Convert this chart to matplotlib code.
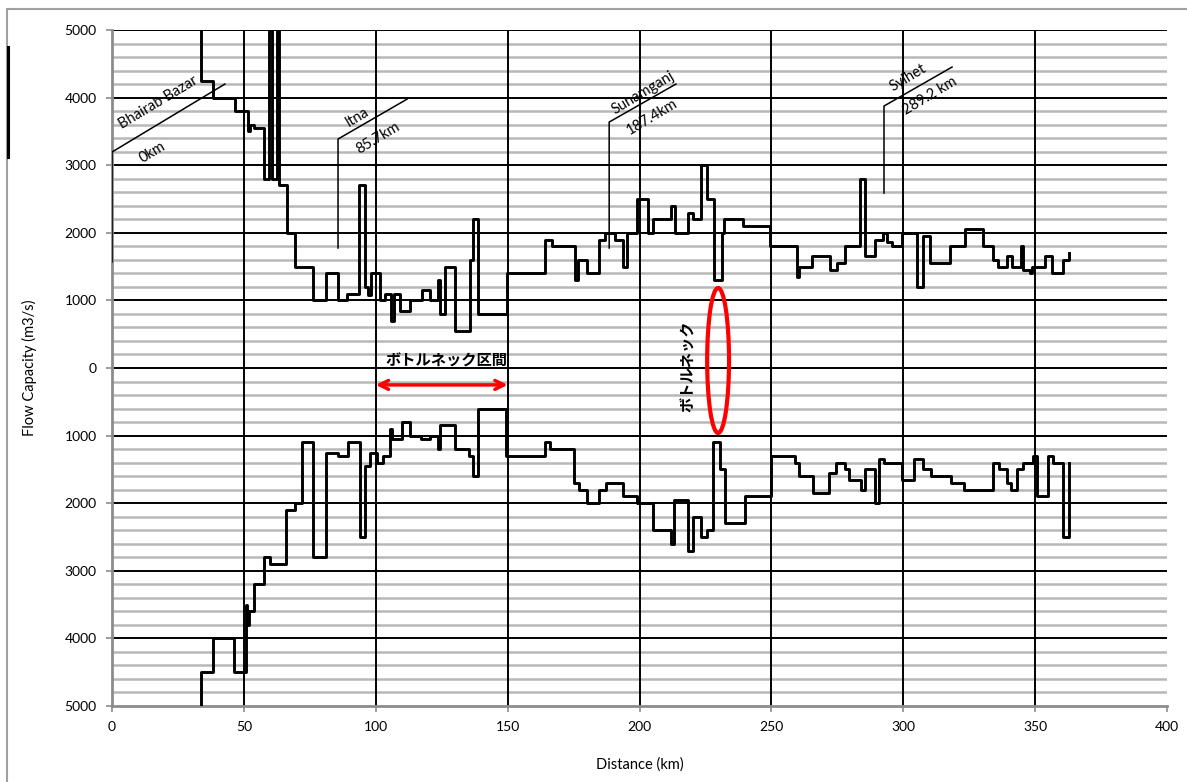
import matplotlib.pyplot as plt
import numpy as np
from matplotlib.patches import Ellipse, Rectangle
from matplotlib.lines import Line2D
from matplotlib.ticker import FuncFormatter

plt.rcParams['font.family'] = ['Lato', 'Noto Sans CJK JP', 'DejaVu Sans']

# upper envelope: capacity level starting at each km (steps-post)
upper_km = [33.7, 33.7, 38.3, 46.6, 51.7, 52.3, 53.8, 57.6, 59.6, 60.5, 62.6, 63.3, 66.2,
            69.4, 76.3, 81.0, 85.8, 89.0, 93.6, 95.9, 97.0, 98.3, 101.8, 103.5, 105.9,
            106.9, 109.2, 113.0, 117.4, 120.6, 123.7, 124.3, 126.2, 130.0, 135.7, 137.0,
            138.9, 149.9, 164.2, 166.7, 175.5, 176.8, 180.0, 184.8, 186.9, 190.7, 193.6,
            195.4, 198.9, 203.1, 205.2, 211.8, 213.5, 218.5, 220.4, 223.2, 225.7, 228.2,
            231.2, 232.0, 239.2, 249.5, 259.6, 260.3, 265.3, 272.2, 274.8, 277.9, 283.6,
            285.5, 289.3, 292.4, 293.7, 295.6, 299.4, 305.1, 307.6, 310.1, 317.7, 323.4,
            330.4, 334.1, 336.0, 339.2, 341.1, 344.6, 345.5, 348.0, 349.0, 353.7, 356.3,
            360.7, 363.0]
upper_q = [5500, 4250, 4000, 3800, 3500, 3600, 3550, 2800, 5500, 2800, 5500, 2700, 2000,
           1500, 1000, 1400, 1000, 1100, 2700, 1200, 1080, 1400, 1000, 1100, 700,
           1100, 850, 1000, 1150, 1000, 1300, 800, 1500, 550, 1600, 2200,
           800, 1400, 1900, 1800, 1300, 1600, 1400, 1900, 2000, 1900, 1500,
           2000, 2500, 2000, 2200, 2400, 2000, 2300, 2200, 3000, 2500, 1300,
           2000, 2200, 2100, 1800, 1350, 1500, 1650, 1450, 1550, 1800, 2800,
           1650, 1900, 2000, 1870, 1800, 2000, 1200, 1950, 1550, 1800, 2050,
           1800, 1600, 1500, 1650, 1500, 1800, 1450, 1400, 1500, 1650, 1400,
           1600, 1700]

# lower envelope (drawn below zero)
lower_km = [33.6, 33.6, 38.4, 46.4, 50.7, 51.3, 52.0, 53.8, 57.8, 59.8, 66.0, 69.5, 71.9,
            76.3, 81.1, 85.8, 89.4, 94.0, 95.9, 97.8, 100.3, 102.9, 105.4, 106.3, 109.8,
            113.0, 117.0, 120.6, 123.7, 124.3, 130.0, 135.5, 137.0, 138.6, 149.5, 164.2,
            166.1, 175.2, 177.2, 180.0, 184.8, 187.3, 193.6, 199.2, 205.2, 211.8, 213.1,
            218.5, 220.2, 223.2, 225.7, 228.0, 230.5, 232.4, 240.0, 249.8, 259.0, 260.6,
            265.7, 272.0, 274.5, 277.9, 279.5, 284.0, 285.4, 289.3, 290.9, 292.7, 299.4,
            304.2, 307.4, 310.4, 318.0, 323.0, 334.1, 336.4, 339.4, 341.0, 343.0, 345.5,
            349.1, 350.6, 355.0, 356.6, 360.7, 363.0]
lower_q = [5500, 4500, 4000, 4500, 3500, 3800, 3600, 3200, 2800, 2900, 2100, 2000, 1100,
           2800, 1250, 1300, 1100, 2500, 1450, 1250, 1400, 1300, 900, 1050, 800,
           1000, 1050, 1000, 1200, 850, 1200, 1300, 1600, 600, 1300, 1100,
           1200, 1700, 1800, 2000, 1800, 1700, 1900, 2000, 2400, 2600, 1950,
           2700, 2200, 2500, 2400, 1100, 1500, 2300, 1900, 1300, 1400, 1600,
           1850, 1550, 1400, 1500, 1650, 1800, 1500, 2000, 1350, 1400, 1650,
           1350, 1500, 1600, 1700, 1800, 1400, 1500, 1700, 1800, 1500, 1400,
           1300, 1900, 1300, 1400, 2500, 1400]

stations = ['Bhairab Bazar', 'Itna', 'Sunamganj', 'Sylhet']
station_km_labels = ['0km', '85.7km', '187.4km', '289.2 km']

fig = plt.figure(figsize=(11.87, 7.82), dpi=100)
ax = fig.add_axes([112 / 1187, 1 - 706 / 782, 1055 / 1187, 676 / 782])
ax.set_xlim(0, 400)
ax.set_ylim(-5000, 5000)

# grid: gray every 200, black every 1000 / 50 km
for y in np.arange(-4800, 5000, 200):
    if y % 1000:
        ax.axhline(y, color='#b8b8b8', lw=1.8, zorder=0.5)
for y in range(-4000, 5001, 1000):
    ax.axhline(y, color='black', lw=1.4, zorder=1)
for x in range(50, 400, 50):
    ax.axvline(x, color='black', lw=1.4, zorder=1)

ax.plot(upper_km, upper_q, drawstyle='steps-post', color='black', lw=2.1, zorder=3)
ax.plot(lower_km, -np.array(lower_q), drawstyle='steps-post', color='black', lw=2.1, zorder=3)

# station leader lines and labels
leaders = [
    ([0, 0, 42.8], [1570, 3195, 4200], (17.4, 3934), (15.5, 3195)),
    ([85.7, 85.7, 111.9], [1775, 3387, 3978], (92.9, 3712), (100.9, 3402)),
    ([188.5, 188.5, 213.8], [1775, 3638, 4200], (201.3, 4067), (204.7, 3712)),
    ([292.7, 292.7, 318.5], [2588, 3875, 4452], (301.8, 4289), (310.1, 4023)),
]
for name, dist, (lx, ly, p_name, p_dist) in zip(stations, station_km_labels, leaders):
    ax.plot(lx, ly, color='black', lw=1.1, zorder=3)
    ax.text(*p_name, name, rotation=31, ha='center', va='center', fontsize=10.5, zorder=4)
    ax.text(*p_dist, dist, rotation=31, ha='center', va='center', fontsize=10.5, zorder=4)

# bottleneck annotations
ax.annotate('', xy=(100, -250), xytext=(150, -250),
            arrowprops=dict(arrowstyle='<->', color='red', lw=2.5, mutation_scale=16,
                            shrinkA=0, shrinkB=0), zorder=5)
ax.text(126.9, 110, 'ボトルネック区間', ha='center', va='center', fontsize=11,
        fontweight='bold', family=['Noto Sans CJK JP'], zorder=5)
ax.add_patch(Ellipse((229.8, 111), 8.3, 2145, fill=False, edgecolor='red', lw=3, zorder=5))
ax.text(218.4, 30, 'ボトルネック', rotation=90, ha='center', va='center', fontsize=11,
        fontweight='bold', family=['Noto Sans CJK JP'], zorder=5)

ax.set_xticks(range(0, 401, 50))
ax.set_yticks(range(-5000, 5001, 1000))
ax.yaxis.set_major_formatter(FuncFormatter(lambda v, p: f'{abs(int(v))}'))
ax.tick_params(axis='both', colors='#8c8c8c', labelcolor='black', length=4,
               width=1.2, labelsize=10, pad=7)
for side in ['top', 'right']:
    ax.spines[side].set_visible(False)
for side in ['left', 'bottom']:
    ax.spines[side].set_color('#8c8c8c')
    ax.spines[side].set_linewidth(2)

ax.set_xlabel('Distance (km)', fontsize=10.5)
ax.set_ylabel('Flow Capacity (m3/s)', fontsize=10.5)
ax.xaxis.set_label_coords(0.5, -51 / 676)
ax.yaxis.set_label_coords(-75 / 1055, 0.5)

# outer frame
fig.patches.append(Rectangle((7 / 1187, -0.05), 1.1, 1 - 9 / 782 + 0.05, fill=False,
                             edgecolor='#a0a0a0', lw=1.5, transform=fig.transFigure))
fig.lines.append(Line2D([7.5 / 1187] * 2, [1 - 47 / 782, 1 - 157 / 782], color='black',
                        lw=2.2, transform=fig.transFigure))

fig.savefig('out.png', dpi=100)
